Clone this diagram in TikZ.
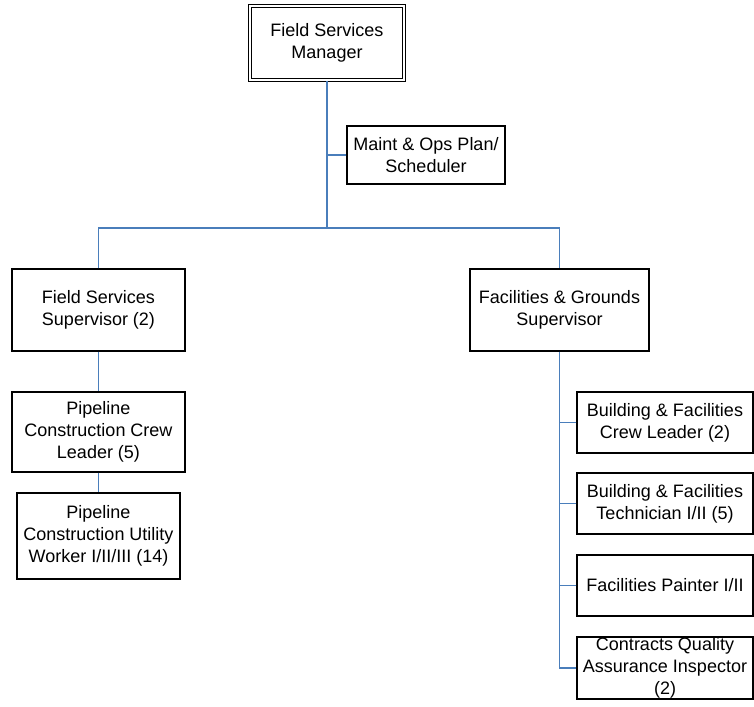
\documentclass[tikz,border=0pt]{standalone}
\usepackage{fontspec}
\setmainfont{Liberation Sans}
\begin{document}
\begin{tikzpicture}[x=1pt,y=-1pt,
  every node/.style={font=\fontsize{18}{21.7}\selectfont},
  box/.style={draw=black, line width=1.4pt, fill=white, align=center, inner sep=0pt},
  link/.style={draw={rgb,255:red,74;green,126;blue,187}, line width=1.8pt}]
  \useasboundingbox (0,0) rectangle (754,706);

  % top level
  \node[box, double, double distance=2.2pt, line width=1.2pt,
        minimum width=154pt, minimum height=74pt] (mgr) at (327,43) {Field Services\\Manager};
  \node[box, minimum width=158pt, minimum height=58pt] (sched) at (426,155) {Maint \& Ops Plan/\\Scheduler};

  % supervisors
  \node[box, minimum width=173pt, minimum height=82pt] (fss) at (98.5,310) {Field Services\\Supervisor (2)};
  \node[box, minimum width=179pt, minimum height=82pt] (fgs) at (559.5,310) {Facilities \& Grounds\\Supervisor};

  % pipeline branch
  \node[box, minimum width=173pt, minimum height=80pt] (pcl) at (98.5,432) {Pipeline\\Construction Crew\\Leader (5)};
  \node[box, minimum width=163pt, minimum height=86pt] (pcu) at (98.5,536) {Pipeline\\Construction Utility\\Worker I/II/III (14)};

  % facilities branch
  \node[box, minimum width=176pt, minimum height=61pt] (bfc) at (665,422.5) {Building \& Facilities\\Crew Leader (2)};
  \node[box, minimum width=176pt, minimum height=61pt] (bft) at (665,503.5) {Building \& Facilities\\Technician I/II (5)};
  \node[box, minimum width=176pt, minimum height=61pt] (fp) at (665,585.5) {Facilities Painter I/II};
  \node[box, minimum width=176pt, minimum height=62pt] (cqa) at (665,668) {Contracts Quality\\Assurance Inspector\\(2)};

  % connectors
  \coordinate (bus) at (327,228);
  \draw[link] (mgr.south) -- (bus);
  \draw[link] (sched.west) -- (sched.west -| mgr.south);
  \draw[link] (fss.north) |- (bus) -| (fgs.north);
  \draw[link] (fss.south) -- (pcl.north);
  \draw[link] (pcl.south) -- (pcu.north);
  \draw[link] (fgs.south) |- (cqa.west);
  \draw[link] (bfc.west) -- (bfc.west -| fgs.south);
  \draw[link] (bft.west) -- (bft.west -| fgs.south);
  \draw[link] (fp.west) -- (fp.west -| fgs.south);
\end{tikzpicture}
\end{document}
